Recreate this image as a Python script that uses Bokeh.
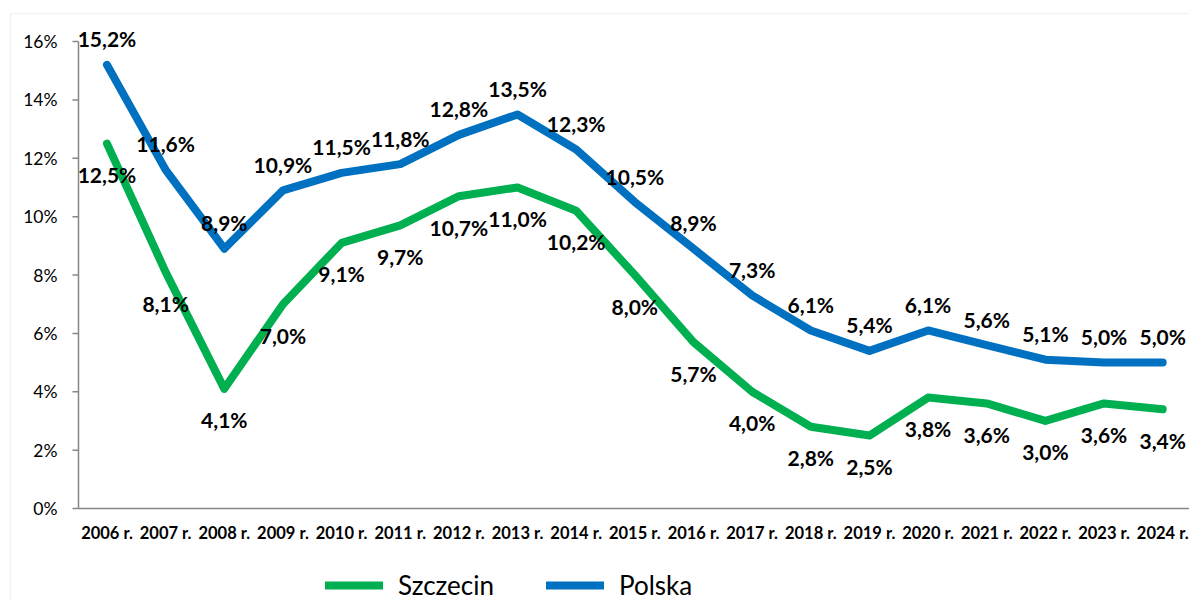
from bokeh.plotting import figure
from bokeh.models import (ColumnDataSource, LabelSet, Range1d, Legend, LegendItem,
                          BoxAnnotation)
from bokeh.core.properties import value
from bokeh.embed import file_html
from bokeh.resources import INLINE

years = ["2006 r.", "2007 r.", "2008 r.", "2009 r.", "2010 r.", "2011 r.", "2012 r.",
         "2013 r.", "2014 r.", "2015 r.", "2016 r.", "2017 r.", "2018 r.", "2019 r.",
         "2020 r.", "2021 r.", "2022 r.", "2023 r.", "2024 r."]
polska = [15.2, 11.6, 8.9, 10.9, 11.5, 11.8, 12.8, 13.5, 12.3, 10.5, 8.9, 7.3, 6.1,
          5.4, 6.1, 5.6, 5.1, 5.0, 5.0]
szczecin = [12.5, 8.1, 4.1, 7.0, 9.1, 9.7, 10.7, 11.0, 10.2, 8.0, 5.7, 4.0, 2.8,
            2.5, 3.8, 3.6, 3.0, 3.6, 3.4]
y_ticks = [0, 2, 4, 6, 8, 10, 12, 14, 16]

GREEN = "#00B050"
BLUE = "#0070C0"
AXIS = "#868686"
FONT = value("Lato")

# canvas geometry (pixels)
W, H = 1189, 601
X0PX, PITCH = 106.5, 58.65      # canvas x of first category, px per category
Y0PX, PXU = 508.0, 29.1875      # canvas y of 0 %, px per 1 %
AXPX = 78.0                     # canvas x of the value axis

x_start = -X0PX / PITCH
x_end = (W - X0PX) / PITCH
y_start = -(H - Y0PX) / PXU
y_end = Y0PX / PXU
AX = (AXPX - X0PX) / PITCH

idx = list(range(len(years)))

def fmt(v):
    return f"{v:.1f}%".replace(".", ",")

src_p = ColumnDataSource(dict(x=idx, y=polska, t=[fmt(v) for v in polska]))
src_s = ColumnDataSource(dict(x=idx, y=szczecin, t=[fmt(v) for v in szczecin]))
src_xl = ColumnDataSource(dict(x=idx, y=[0] * len(idx), t=years))
src_yl = ColumnDataSource(dict(x=[AX] * len(y_ticks), y=y_ticks,
                               t=[f"{v}%" for v in y_ticks]))

p = figure(width=W, height=H, output_backend="svg", toolbar_location=None,
           x_range=Range1d(x_start, x_end), y_range=Range1d(y_start, y_end),
           min_border_left=0, min_border_right=0, min_border_top=0,
           min_border_bottom=0)
p.outline_line_color = None
p.xgrid.visible = False
p.ygrid.visible = False
p.xaxis.visible = False
p.yaxis.visible = False

# chart area border
border = BoxAnnotation(left=10, right=1400, top=13, bottom=800,
                       left_units="canvas", right_units="canvas",
                       top_units="canvas", bottom_units="canvas",
                       fill_alpha=0, line_color="#d9d9d9", line_width=1.5,
                       level="underlay")
p.add_layout(border)

# axes drawn in data space
p.segment(x0=[AX], y0=[0], x1=[AX], y1=[y_ticks[-1]], line_color=AXIS, line_width=1.5)
p.segment(x0=[AX], y0=[0], x1=[x_end], y1=[0], line_color=AXIS, line_width=1.5)
tick_len = 6 / PITCH
p.segment(x0=[AX - tick_len] * len(y_ticks), y0=y_ticks,
          x1=[AX] * len(y_ticks), y1=y_ticks, line_color=AXIS, line_width=1.5)

p.add_layout(LabelSet(x="x", y="y", text="t", source=src_yl, x_offset=-21,
                      text_align="right", text_baseline="middle",
                      text_font=FONT, text_font_size="17.5px", text_color="#000000"))
p.add_layout(LabelSet(x="x", y="y", text="t", source=src_xl, y_offset=-24,
                      text_align="center", text_baseline="middle",
                      text_font=FONT, text_font_style="bold", text_font_size="16.5px",
                      text_color="#000000"))

# series
r_s = p.line("x", "y", source=src_s, line_color=GREEN, line_width=8,
             line_join="round", line_cap="round")
r_p = p.line("x", "y", source=src_p, line_color=BLUE, line_width=8,
             line_join="round", line_cap="round")

p.add_layout(LabelSet(x="x", y="y", text="t", source=src_p, y_offset=26,
                      text_align="center", text_baseline="middle",
                      text_font=FONT, text_font_style="bold", text_font_size="21px",
                      text_color="#000000"))
p.add_layout(LabelSet(x="x", y="y", text="t", source=src_s, y_offset=-31,
                      text_align="center", text_baseline="middle",
                      text_font=FONT, text_font_style="bold", text_font_size="21px",
                      text_color="#000000"))

# legend
legend = Legend(items=[LegendItem(label="Szczecin", renderers=[r_s]),
                       LegendItem(label="Polska", renderers=[r_p])],
                orientation="horizontal", location=(325, 0),
                glyph_width=58, glyph_height=26, label_height=26,
                label_standoff=15, spacing=52, padding=0, margin=0,
                border_line_alpha=0, background_fill_alpha=0,
                label_text_font="Lato", label_text_font_size="26px",
                label_text_color="#000000", label_text_baseline="middle")
p.add_layout(legend, "center")

open("out.html", "w").write(file_html(p, INLINE))
